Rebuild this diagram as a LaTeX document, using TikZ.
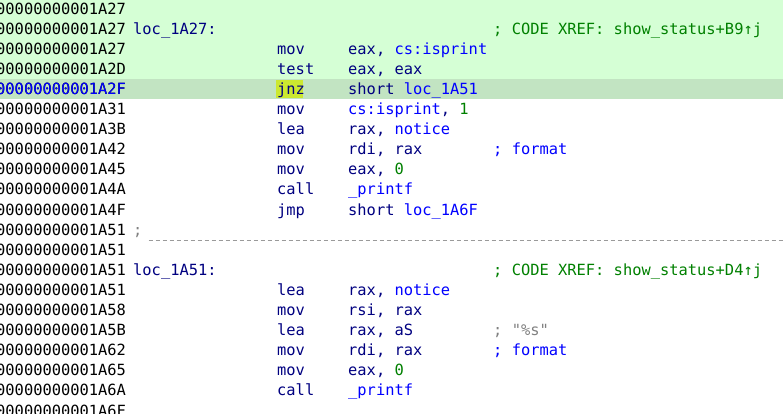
\documentclass[tikz,border=0pt]{standalone}
\usepackage{fontspec}
\setmainfont{DejaVu Sans Mono}[Ligatures=TeXOff]
\definecolor{codebg}{RGB}{213,255,213}
\definecolor{curline}{RGB}{194,228,194}
\definecolor{hiword}{RGB}{204,232,48}
\definecolor{insn}{RGB}{0,0,128}
\definecolor{sym}{RGB}{0,0,255}
\definecolor{num}{RGB}{0,128,0}
\definecolor{cmt}{RGB}{128,128,128}
\tikzset{
  every node/.style={inner sep=0pt,anchor=base west,font=\fontsize{15.4}{18}\selectfont},
  addr/.style={black},
  lbl/.style={text=insn},
  op/.style={text=insn}
}
\begin{document}
\begin{tikzpicture}[x=1pt,y=-1pt]
      \useasboundingbox (0,0) rectangle (783,413);
      \fill[codebg] (0,0) rectangle (783,79);
      \fill[curline] (0,79) rectangle (783,99);
      \fill[hiword] (276,80) rectangle (303,98);
      \foreach[count=\i from 0,evaluate={\i*20.1+14} as \y] \a in
        {A27,A27,A27,A2D,A2F,A31,A3B,A42,A45,A4A,A4F,A51,A51,A51,A51,A58,A5B,A62,A65,A6A,A6F} {
        \node[addr] (a\i) at (-4,\y) {00000000001\a};
      }
      \node[text=sym] at (a4.base west) {00000000001A2F};
      % labels
      \node[lbl] (l1) at (133,34.1) {loc\_1A27:};
      \node[lbl] (l13) at (133,275.3) {loc\_1A51:};
      \node[text=num] (x1) at (493,34.1) {; CODE XREF: show\_status+B9↑j};
      \node[text=num] (x13) at (493,275.3) {; CODE XREF: show\_status+D4↑j};
      % separator
      \node[text=cmt] (sep) at (133,235.1) {;};
      \draw[cmt!80,dash pattern=on 4pt off 3pt] ([xshift=6pt,yshift=-5pt]sep.base east) -- ++(640,0);
      % instructions
      \foreach[count=\i from 2,evaluate={\i*20.1+14} as \y] \m/\o in
        {mov/{eax, \textcolor{sym}{cs:isprint}},test/{eax, eax},jnz/{short \textcolor{sym}{loc\_1A51}},
         mov/{\textcolor{sym}{cs:isprint}, \textcolor{num}{1}},lea/{rax, \textcolor{sym}{notice}},
         mov/{rdi, rax},mov/{eax, \textcolor{num}{0}},call/{\textcolor{sym}{\_printf}},
         jmp/{short \textcolor{sym}{loc\_1A6F}}} {
        \node[op] (m\i) at (277,\y) {\m};
        \node[op] (o\i) at (348,\y) {\o};
      }
      \foreach[count=\i from 14,evaluate={\i*20.1+14} as \y] \m/\o in
        {lea/{rax, \textcolor{sym}{notice}},mov/{rsi, rax},lea/{rax, aS},mov/{rdi, rax},
         mov/{eax, \textcolor{num}{0}},call/{\textcolor{sym}{\_printf}}} {
        \node[op] (m\i) at (277,\y) {\m};
        \node[op] (o\i) at (348,\y) {\o};
      }
      % comments
      \node[text=sym] (c7) at (493,154.7) {; format};
      \node[text=cmt] (c16) at (493,335.6) {; "\%s"};
      \node[text=sym] (c17) at (493,355.7) {; format};
\end{tikzpicture}
\end{document}
